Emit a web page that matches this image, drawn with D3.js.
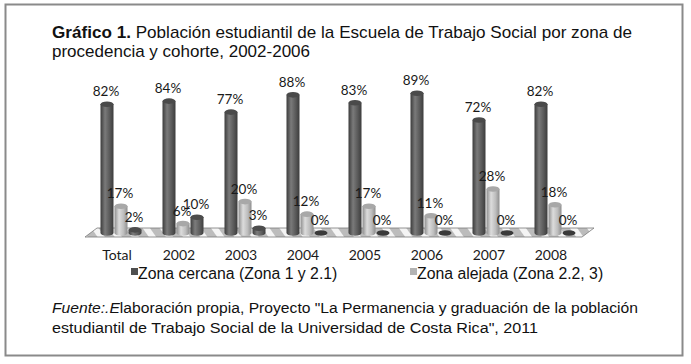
<!DOCTYPE html>
<html>
<head>
<meta charset="utf-8">
<script src="https://cdn.jsdelivr.net/npm/d3@7"></script>
<style>
  body { margin: 0; background: #fff; }
  svg text { font-family: "Liberation Sans", Arial, sans-serif; }
  .val, .cat { font-family: Lato, "Open Sans", sans-serif; }
</style>
</head>
<body>
<div id="chart"></div>
<script>
const WIDTH = 691;
const HEIGHT = 364;

// data
const categories = ["Total", "2002", "2003", "2004", "2005", "2006", "2007", "2008"];
const cercana = [0.82, 0.84, 0.77, 0.88, 0.83, 0.89, 0.72, 0.82];
const alejada = [0.17, 0.06, 0.20, 0.12, 0.17, 0.11, 0.28, 0.18];
const otra = [0.02, 0.10, 0.03, 0, 0, 0, 0, 0];
const seriesNames = ["Zona cercana (Zona 1 y 2.1)", "Zona alejada (Zona 2.2, 3)"];

const series = [
  { key: "cercana", values: cercana, dark: "#3c3c3c", mid: "#5a5a5a", light: "#7a7a7a", top: "#4a4a4a" },
  { key: "alejada", values: alejada, dark: "#8e8e8e", mid: "#bdbdbd", light: "#dcdcdc", top: "#a8a8a8" },
  { key: "otra", values: otra, dark: "#3e3e3e", mid: "#5e5e5e", light: "#7c7c7c", top: "#4c4c4c" }
];

const svg = d3.select("#chart").append("svg")
  .attr("width", WIDTH)
  .attr("height", HEIGHT);

// frame
svg.append("rect")
  .attr("x", 5.5).attr("y", 4.5)
  .attr("width", 677).attr("height", 351)
  .attr("fill", "#fff")
  .attr("stroke", "#8a8a8a")
  .attr("stroke-width", 2);

// title
const title = svg.append("text").attr("x", 52).attr("y", 38)
  .attr("font-size", 17).attr("fill", "#111")
  .attr("textLength", 580).attr("lengthAdjust", "spacingAndGlyphs");
title.append("tspan").attr("font-weight", "bold").text("Gráfico 1.");
title.append("tspan").text(" Población estudiantil de la Escuela de Trabajo Social por  zona de");
svg.append("text").attr("x", 52).attr("y", 57)
  .attr("font-size", 17).attr("fill", "#111")
  .attr("textLength", 258).attr("lengthAdjust", "spacingAndGlyphs")
  .text("procedencia  y cohorte, 2002-2006");

const defs = svg.append("defs");
series.forEach((s) => {
  const g = defs.append("linearGradient").attr("id", "grad-" + s.key)
    .attr("x1", "0%").attr("x2", "100%");
  g.append("stop").attr("offset", "0%").attr("stop-color", s.dark);
  g.append("stop").attr("offset", "35%").attr("stop-color", s.light);
  g.append("stop").attr("offset", "70%").attr("stop-color", s.mid);
  g.append("stop").attr("offset", "100%").attr("stop-color", s.dark);
});

// floor pattern
const pat = defs.append("pattern").attr("id", "floor")
  .attr("patternUnits", "userSpaceOnUse")
  .attr("width", 14).attr("height", 14)
  .attr("patternTransform", "rotate(-35)");
pat.append("rect").attr("width", 14).attr("height", 14).attr("fill", "#bcbcbc");
pat.append("rect").attr("width", 6).attr("height", 14).attr("fill", "#f4f4f4");

const x = d3.scaleBand().domain(categories).range([90, 586]);
const xs = d3.scaleBand().domain(series.map((s) => s.key)).range([-21, 21]);
const y = d3.scaleLinear().domain([0, 1]).range([233, 76]);

// floor
const fl = x.range()[0] - 5, fr = x.range()[1] + 2;
svg.append("path")
  .attr("d", `M${fl},237 L${fl + 12},228 L${fr + 6},228 L${fr - 6},237 Z`)
  .attr("fill", "url(#floor)")
  .attr("stroke", "#7a7a7a")
  .attr("stroke-width", 0.8);

const rx = 6.5, ry = 2.8;
const plot = svg.append("g");

series.forEach((s) => {
  s.values.forEach((v, i) => {
    const cx = x(categories[i]) + x.bandwidth() / 2 + xs(s.key) + xs.bandwidth() / 2;
    const base = y(0), top = y(v);
    const g = plot.append("g");
    if (v > 0) {
      g.append("path")
        .attr("d", `M${cx - rx},${top} L${cx - rx},${base} A${rx},${ry} 0 0 0 ${cx + rx},${base} L${cx + rx},${top} Z`)
        .attr("fill", `url(#grad-${s.key})`);
      g.append("ellipse")
        .attr("cx", cx).attr("cy", top).attr("rx", rx).attr("ry", ry)
        .attr("fill", s.top);
    } else {
      g.append("ellipse")
        .attr("cx", cx).attr("cy", base).attr("rx", rx).attr("ry", ry)
        .attr("fill", "#3a3a3a");
    }
    plot.append("text")
      .attr("class", "val")
      .attr("x", cx - 1)
      .attr("y", top - 8)
      .attr("text-anchor", "middle")
      .attr("font-size", 13.5)
      .attr("fill", "#1a1a1a")
      .text(Math.round(v * 100) + "%");
  });
});

// category labels
svg.append("g").selectAll("text")
  .data(categories).join("text")
  .attr("class", "cat")
  .attr("x", (d) => x(d) + x.bandwidth() / 2 - 4)
  .attr("y", 260)
  .attr("text-anchor", "middle")
  .attr("font-size", 14)
  .attr("fill", "#1a1a1a")
  .text((d) => d);

// legend
const legX = [131, 410];
const legColors = ["#4f4f4f", "#b3b3b3"];
seriesNames.forEach((name, i) => {
  svg.append("rect").attr("x", legX[i]).attr("y", 268)
    .attr("width", 7).attr("height", 7).attr("fill", legColors[i]);
  svg.append("text").attr("x", legX[i] + 7).attr("y", 279)
    .attr("font-size", 15.8).attr("fill", "#111").text(name);
});

// source
const src = svg.append("text").attr("x", 52).attr("y", 313)
  .attr("font-size", 15.5).attr("fill", "#111")
  .attr("textLength", 586).attr("lengthAdjust", "spacingAndGlyphs");
src.append("tspan").attr("font-style", "italic").text("Fuente:.E");
src.append("tspan").text("laboración propia, Proyecto \"La Permanencia y graduación de la población");
svg.append("text").attr("x", 52).attr("y", 333)
  .attr("font-size", 15.5).attr("fill", "#111")
  .attr("textLength", 486).attr("lengthAdjust", "spacingAndGlyphs")
  .text("estudiantil de Trabajo Social de la Universidad de Costa Rica\", 2011");
</script>
</body>
</html>
